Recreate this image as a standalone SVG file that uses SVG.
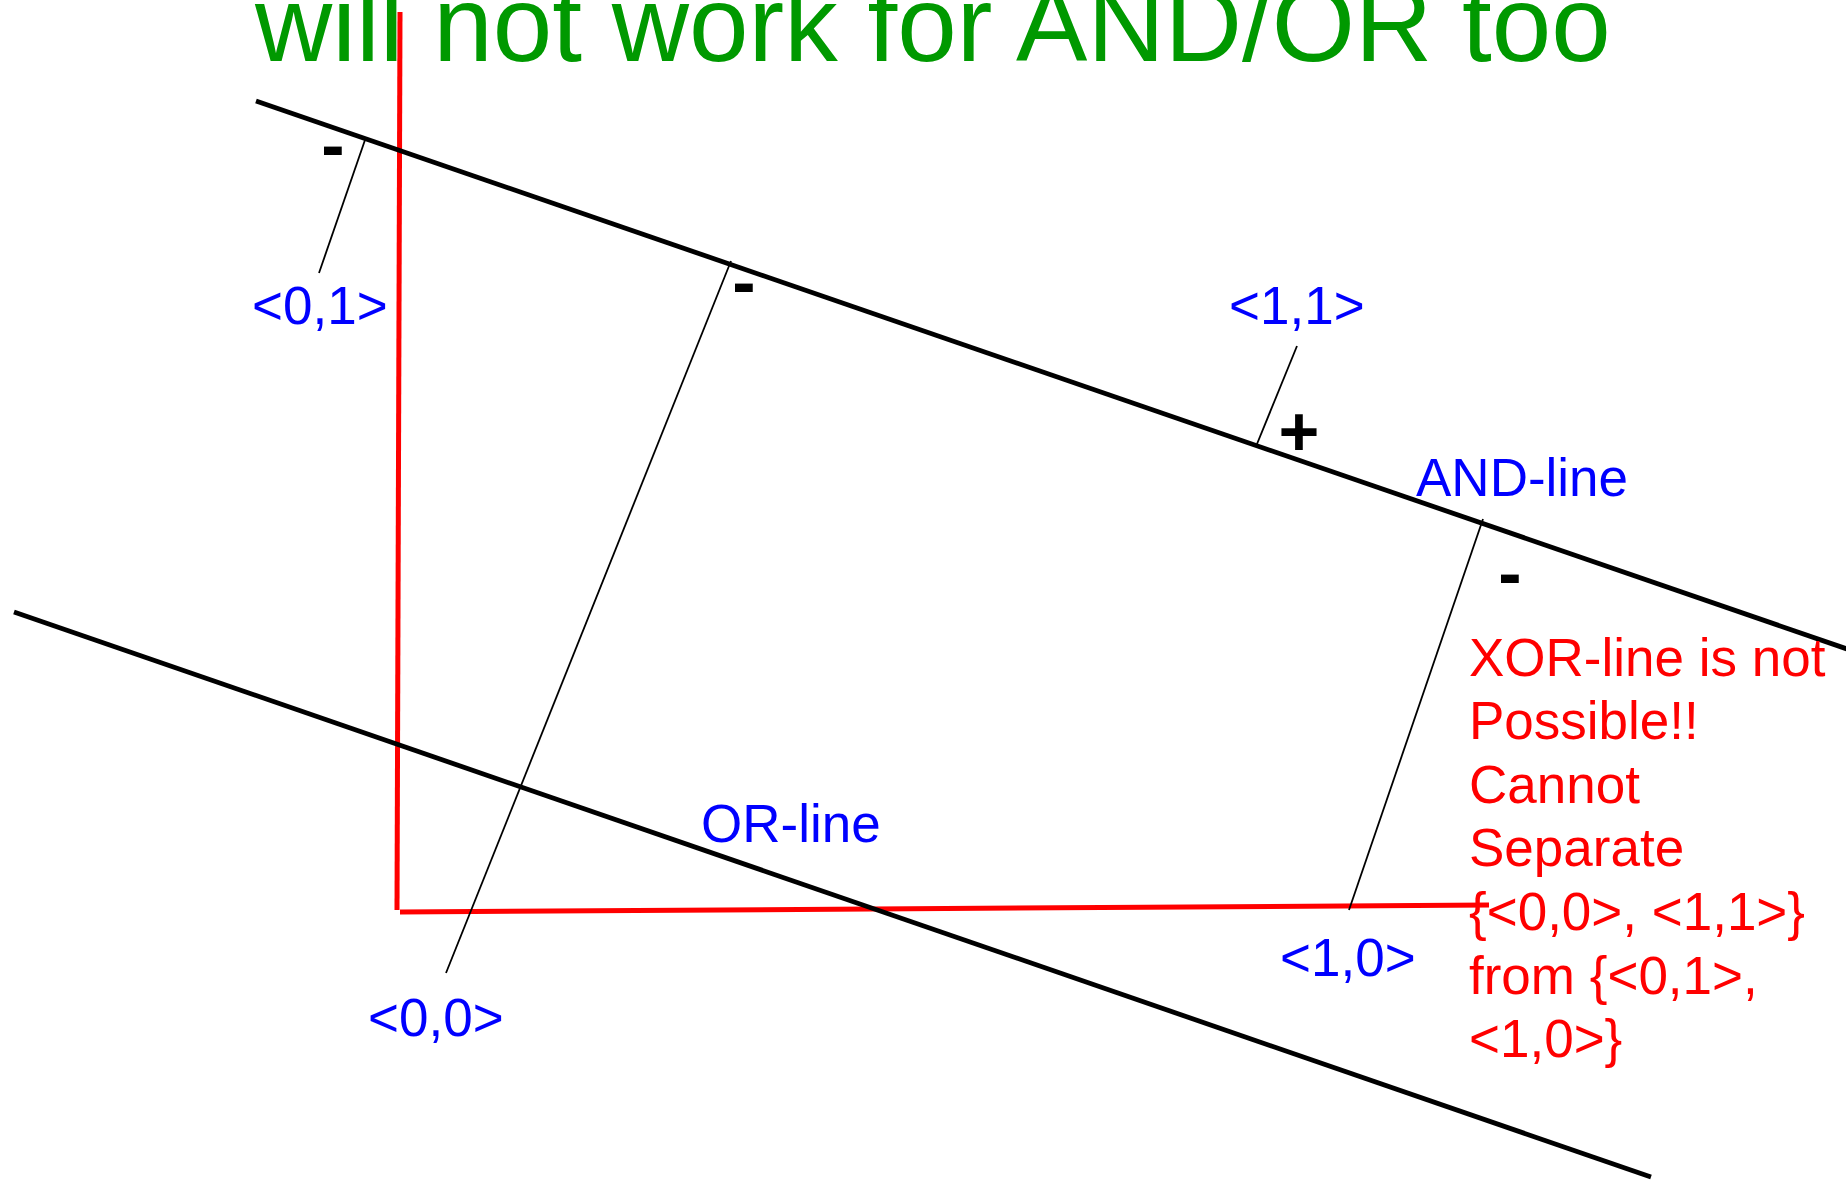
<svg xmlns="http://www.w3.org/2000/svg" width="1846" height="1183" viewBox="0 0 1846 1183">
<style>
text { font-family: "Liberation Sans", Arial, sans-serif; }
.title { font-size: 107px; fill: #009900; }
.lbl { font-size: 53px; fill: #0000ff; }
.note { font-size: 53px; fill: #ff0000; }
.sign { font-size: 70px; font-weight: bold; fill: #000000; text-anchor: middle; }
.sep { stroke: #000000; stroke-width: 4.8; fill: none; }
.thin { stroke: #000000; stroke-width: 1.8; fill: none; }
.axis { stroke: #ff0000; stroke-width: 5; fill: none; }
</style>
<rect width="1846" height="1183" fill="#ffffff"/>
<g id="title">
<text class="title" x="255" y="61">will not work for AND/OR too</text>
</g>
<g id="axes">
<line class="axis" x1="400" y1="12" x2="397" y2="910"/>
<line class="axis" x1="400" y1="912" x2="1489" y2="905"/>
</g>
<g id="connectors">
<line class="sep" x1="256" y1="101" x2="1850" y2="650"/>
<line class="sep" x1="14" y1="612" x2="1651" y2="1177"/>
<line class="thin" x1="365" y1="140" x2="319" y2="273"/>
<line class="thin" x1="731" y1="261" x2="446" y2="973"/>
<line class="thin" x1="1297" y1="346" x2="1257" y2="444"/>
<line class="thin" x1="1483" y1="519" x2="1349" y2="910"/>
</g>
<g id="node-01">
<text class="lbl" x="252" y="324">&lt;0,1&gt;</text>
<text class="sign" x="333" y="169">-</text>
</g>
<g id="node-00">
<text class="lbl" x="368" y="1036">&lt;0,0&gt;</text>
<text class="sign" x="744" y="306">-</text>
</g>
<g id="node-11">
<text class="lbl" x="1229" y="324">&lt;1,1&gt;</text>
<text class="sign" x="1299" y="456">+</text>
</g>
<g id="node-10">
<text class="lbl" x="1280" y="976">&lt;1,0&gt;</text>
<text class="sign" x="1510" y="597">-</text>
</g>
<g id="and-line-label">
<text class="lbl" x="1416" y="496">AND-line</text>
</g>
<g id="or-line-label">
<text class="lbl" x="701" y="842">OR-line</text>
</g>
<g id="xor-note">
<text class="note" x="1469" y="676">XOR-line is not</text>
<text class="note" x="1469" y="739">Possible!!</text>
<text class="note" x="1469" y="803">Cannot</text>
<text class="note" x="1469" y="866">Separate</text>
<text class="note" x="1469" y="930">{&lt;0,0&gt;, &lt;1,1&gt;}</text>
<text class="note" x="1469" y="994">from {&lt;0,1&gt;,</text>
<text class="note" x="1469" y="1057">&lt;1,0&gt;}</text>
</g>
</svg>
